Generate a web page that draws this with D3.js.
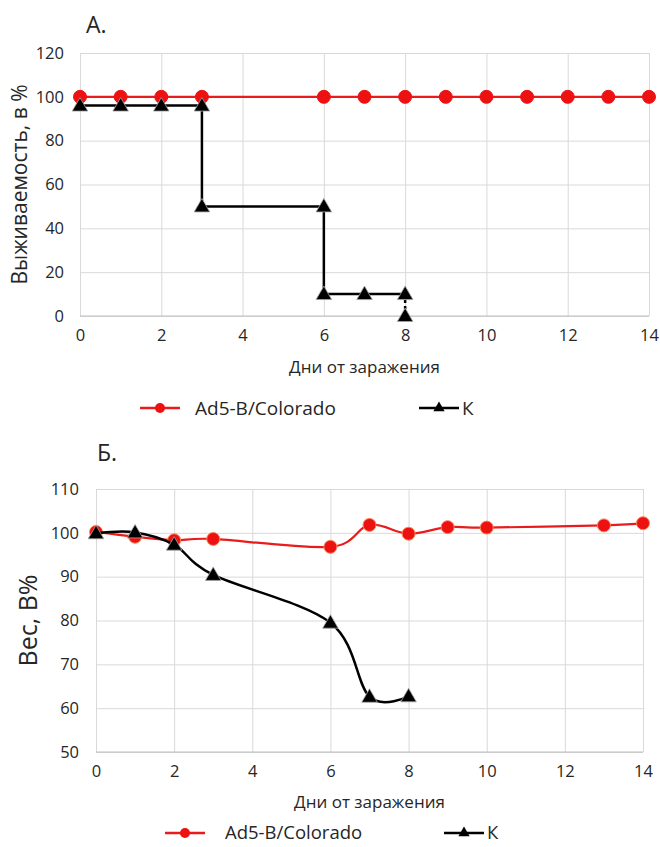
<!DOCTYPE html>
<html>
<head>
<meta charset="utf-8">
<script src="https://cdn.jsdelivr.net/npm/d3@7"></script>
<style>
  body { margin: 0; background: #fff; }
  text { font-family: "Open Sans", sans-serif; fill: #262626; }
</style>
</head>
<body>
<div id="chart"></div>
<script>
// survival panel (A)
var survDaysAd5 = [0, 1, 2, 3, 6, 7, 8, 9, 10, 11, 12, 13, 14];
var survAd5 = [100, 100, 100, 100, 100, 100, 100, 100, 100, 100, 100, 100, 100];
var survDaysK = [0, 1, 2, 3, 3, 6, 6, 7, 8, 8];
var survK = [96, 96, 96, 96, 50, 50, 10, 10, 10, 0];
var survTicksY = [0, 20, 40, 60, 80, 100, 120];

// weight panel (B)
var weightDaysAd5 = [0, 1, 2, 3, 6, 7, 8, 9, 10, 13, 14];
var weightAd5 = [100.2, 99.1, 98.3, 98.6, 96.8, 101.8, 99.8, 101.3, 101.2, 101.7, 102.2];
var weightDaysK = [0, 1, 2, 3, 6, 7, 8];
var weightK = [99.9, 100.1, 97.3, 90.4, 79.5, 62.6, 62.7];
var weightTicksY = [50, 60, 70, 80, 90, 100, 110];

var dayTicks = [0, 2, 4, 6, 8, 10, 12, 14];
var seriesNames = ["Ad5-B/Colorado", "К"];

var svg = d3.select("#chart")
    .append("svg")
    .attr("width", 660)
    .attr("height", 847);

function zip(xs, ys) {
    return xs.map(function(d, i) { return { x: d, y: ys[i] }; });
}

var tri = d3.symbol().type(d3.symbolTriangle).size(105);

function drawPanel(opt) {
    var g = svg.append("g");
    var x = d3.scaleLinear().domain([0, 14]).range([opt.left, opt.right]);
    var y = d3.scaleLinear().domain(opt.yDomain).range([opt.bottom, opt.top]);

    // grid
    g.append("g")
        .attr("transform", "translate(0," + opt.bottom + ")")
        .call(d3.axisBottom(x).tickValues(dayTicks).tickSize(-(opt.bottom - opt.top)).tickPadding(13))
        .call(function(a) {
            a.select(".domain").remove();
            a.selectAll("line").attr("stroke", "#d9d9d9");
            a.selectAll("text").style("font-size", "16.5px").style("font-family", "Open Sans").attr("fill", "#262626");
        });
    g.append("g")
        .attr("transform", "translate(" + opt.left + ",0)")
        .call(d3.axisLeft(y).tickValues(opt.yTicks).tickSize(-(opt.right - opt.left)).tickPadding(opt.yPad))
        .call(function(a) {
            a.select(".domain").remove();
            a.selectAll("line").attr("stroke", "#d9d9d9");
            a.selectAll("text").style("font-size", "16.5px").style("font-family", "Open Sans").attr("fill", "#262626");
        });
    g.append("line")
        .attr("x1", opt.left).attr("x2", opt.right)
        .attr("y1", opt.bottom).attr("y2", opt.bottom)
        .attr("stroke", "#bfbfbf");

    // titles
    g.append("text").attr("x", opt.labelX).attr("y", opt.labelY)
        .style("font-size", "23px").text(opt.label);
    g.append("text")
        .attr("x", (opt.left + opt.right) / 2).attr("y", opt.xTitleY)
        .attr("text-anchor", "middle").style("font-size", "17px")
        .text("Дни от заражения");
    g.append("text")
        .attr("transform", "translate(" + opt.yTitleX + "," + (opt.top + opt.bottom) / 2 + ") rotate(-90)")
        .attr("text-anchor", "middle").style("font-size", opt.yTitleSize)
        .text(opt.yTitle);

    var line = d3.line().x(function(d) { return x(d.x); }).y(function(d) { return y(d.y); });
    if (opt.smooth) line.curve(d3.curveCardinal.tension(0));

    // red series
    var red = zip(opt.daysAd5, opt.valsAd5);
    g.append("path").datum(red)
        .attr("d", line).attr("fill", "none")
        .attr("stroke", "#e81c1c").attr("stroke-width", 2.2);
    g.selectAll(".dot").data(red).enter().append("circle")
        .attr("cx", function(d) { return x(d.x); })
        .attr("cy", function(d) { return y(d.y); })
        .attr("r", 6.5)
        .attr("fill", "#ee1111")
        .attr("stroke", opt.smooth ? "#f58a5a" : "#ee1111")
        .attr("stroke-width", 1);

    // black series
    var blk = zip(opt.daysK, opt.valsK);
    var solid = opt.dashLast ? blk.slice(0, blk.length - 1) : blk;
    g.append("path").datum(solid)
        .attr("d", line).attr("fill", "none")
        .attr("stroke", "#000").attr("stroke-width", 2.5);
    if (opt.dashLast) {
        g.append("path").datum(blk.slice(blk.length - 2))
            .attr("d", line).attr("fill", "none")
            .attr("stroke", "#000").attr("stroke-width", 2.5)
            .attr("stroke-dasharray", "3,3");
    }
    g.selectAll(".tri").data(blk).enter().append("path")
        .attr("d", tri)
        .attr("transform", function(d) { return "translate(" + x(d.x) + "," + (y(d.y) + 1) + ")"; })
        .attr("fill", "#000")
        .attr("stroke", "#a6a6a6").attr("stroke-width", 0.8);

    // legend
    var lg = g.append("g").attr("transform", "translate(0," + opt.legendY + ")");
    lg.append("line").attr("x1", opt.legendX).attr("x2", opt.legendX + 40)
        .attr("stroke", "#e81c1c").attr("stroke-width", 2.5);
    lg.append("circle").attr("cx", opt.legendX + 20).attr("r", 5).attr("fill", "#ee1111");
    lg.append("text").attr("x", opt.legendX + opt.legendGap).attr("dy", "0.35em")
        .style("font-size", opt.legendSize).text(seriesNames[0]);
    lg.append("line").attr("x1", opt.legendX2).attr("x2", opt.legendX2 + 40)
        .attr("stroke", "#000").attr("stroke-width", 2.5);
    lg.append("path").attr("d", d3.symbol().type(d3.symbolTriangle).size(55))
        .attr("transform", "translate(" + (opt.legendX2 + 20) + ",0)").attr("fill", "#000");
    lg.append("text").attr("x", opt.legendX2 + 43).attr("dy", "0.35em")
        .style("font-size", opt.legendSize).text(seriesNames[1]);
}

drawPanel({
    left: 80, right: 649, top: 53, bottom: 316,
    yDomain: [0, 120], yTicks: survTicksY, yPad: 16,
    daysAd5: survDaysAd5, valsAd5: survAd5,
    daysK: survDaysK, valsK: survK,
    smooth: false, dashLast: true,
    label: "А.", labelX: 86, labelY: 33,
    xTitleY: 373,
    yTitle: "Выживаемость, в %", yTitleX: 27, yTitleSize: "21px",
    legendY: 408, legendX: 140, legendGap: 55, legendX2: 419, legendSize: "19px"
});

drawPanel({
    left: 96, right: 643, top: 489, bottom: 752,
    yDomain: [50, 110], yTicks: weightTicksY, yPad: 17,
    daysAd5: weightDaysAd5, valsAd5: weightAd5,
    daysK: weightDaysK, valsK: weightK,
    smooth: true, dashLast: false,
    label: "Б.", labelX: 97, labelY: 461,
    xTitleY: 808,
    yTitle: "Вес, В%", yTitleX: 37, yTitleSize: "25px",
    legendY: 833, legendX: 165, legendGap: 60, legendX2: 444, legendSize: "18.5px"
});
</script>
</body>
</html>
